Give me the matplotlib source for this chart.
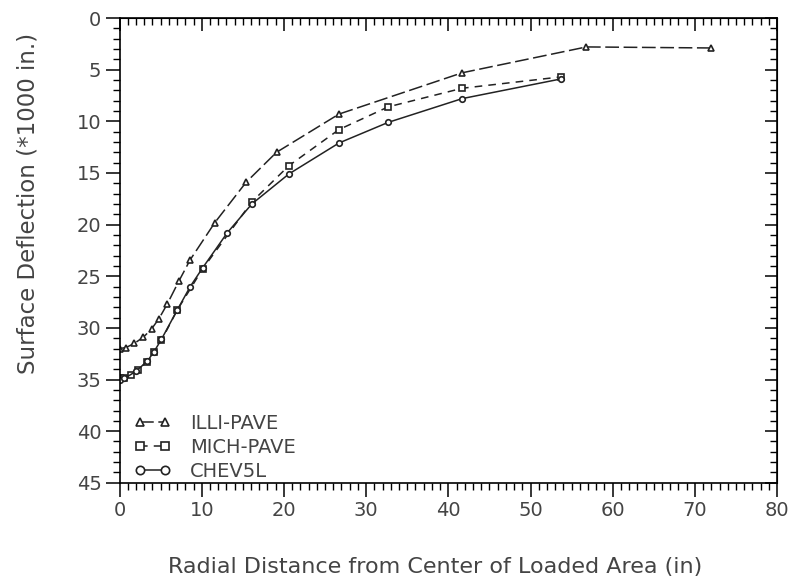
import matplotlib
matplotlib.use("Agg")
import matplotlib.pyplot as plt
from matplotlib.ticker import MultipleLocator

# Values (deflection in 1/1000 in.)
illi_x = [0, 0.8, 1.8, 2.9, 3.9, 4.8, 5.8, 7.2, 8.6, 11.6, 15.4, 19.1, 26.7, 41.7, 56.8, 71.9]
illi_y = [32.0, 31.9, 31.5, 30.9, 30.1, 29.1, 27.7, 25.5, 23.4, 19.8, 15.9, 13.0, 9.3, 5.3, 2.8, 2.9]

mich_x = [0, 0.6, 1.4, 2.2, 3.3, 4.2, 5.1, 7.0, 10.1, 16.1, 20.6, 26.7, 32.7, 41.7, 53.7]
mich_y = [34.9, 34.9, 34.6, 34.1, 33.3, 32.3, 31.2, 28.3, 24.3, 17.8, 14.3, 10.8, 8.6, 6.8, 5.7]

chev_x = [0, 0.6, 2.0, 3.4, 4.2, 5.1, 7.0, 8.6, 10.1, 13.1, 16.1, 20.6, 26.7, 32.7, 41.7, 53.7]
chev_y = [35.0, 34.9, 34.2, 33.2, 32.3, 31.1, 28.3, 26.0, 24.2, 20.8, 18.0, 15.1, 12.1, 10.1, 7.8, 5.9]

text_color = "#444444"
plt.rcParams["font.family"] = "DejaVu Sans"

fig = plt.figure(figsize=(7.97, 5.81), dpi=100)
ax = fig.add_axes([0.150, 0.169, 0.825, 0.800])

ax.plot(illi_x, illi_y, color="#222222", linestyle=(0, (9, 3)), linewidth=1.1,
        marker="^", markersize=4, markerfacecolor="white", markeredgewidth=1.2,
        label="ILLI-PAVE")
ax.plot(mich_x, mich_y, color="#222222", linestyle=(0, (5, 4)), linewidth=1.1,
        marker="s", markersize=4, markerfacecolor="white", markeredgewidth=1.2,
        label="MICH-PAVE")
ax.plot(chev_x, chev_y, color="#222222", linestyle="-", linewidth=1.1,
        marker="o", markersize=4, markerfacecolor="white", markeredgewidth=1.2,
        label="CHEV5L")

ax.set_xlim(0, 80)
ax.set_ylim(45, 0)
ax.xaxis.set_major_locator(MultipleLocator(10))
ax.xaxis.set_minor_locator(MultipleLocator(1))
ax.yaxis.set_major_locator(MultipleLocator(5))
ax.yaxis.set_minor_locator(MultipleLocator(1))
ax.tick_params(which="major", direction="out", length=10, width=1.1,
               labelsize=14, labelcolor=text_color, pad=3)
ax.tick_params(which="minor", direction="out", length=5, width=1.0)

# top and right ticks point inward, like the original plotter output
top = ax.secondary_xaxis("top")
top.xaxis.set_major_locator(MultipleLocator(10))
top.xaxis.set_minor_locator(MultipleLocator(1))
top.tick_params(which="major", direction="in", length=9, width=1.1, labeltop=False)
top.tick_params(which="minor", direction="in", length=5, width=1.0)

right = ax.secondary_yaxis("right")
right.yaxis.set_major_locator(MultipleLocator(5))
right.yaxis.set_minor_locator(MultipleLocator(1))
right.tick_params(which="major", direction="in", length=9, width=1.1, labelright=False)
right.tick_params(which="minor", direction="in", length=5, width=1.0)

for s in ax.spines.values():
    s.set_linewidth(1.2)

ax.set_xlabel("Radial Distance from Center of Loaded Area (in)", fontsize=16,
              color=text_color)
ax.xaxis.set_label_coords(0.48, -0.16)
ax.set_ylabel("Surface Deflection (*1000 in.)", fontsize=16.5, color=text_color)
ax.yaxis.set_label_coords(-0.139, 0.60)
ax.yaxis.label.set_verticalalignment("center")

leg = ax.legend(loc="lower left", numpoints=2, frameon=False, fontsize=14,
                markerscale=1.5, handlelength=1.9, handletextpad=1.0,
                labelspacing=0.25, borderaxespad=0, bbox_to_anchor=(0.01, -0.012))
for t in leg.get_texts():
    t.set_color(text_color)

fig.savefig("out.png", dpi=100)
